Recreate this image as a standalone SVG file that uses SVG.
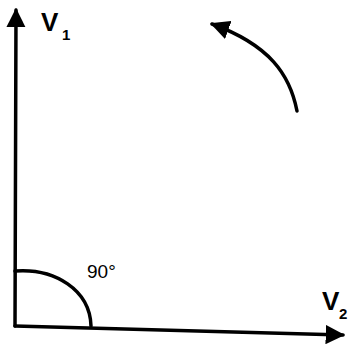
<svg xmlns="http://www.w3.org/2000/svg" width="348" height="351" viewBox="0 0 348 351">
<style>
.ax{stroke:#000;stroke-width:3.5;fill:none;stroke-linecap:round}
.lbl{font-family:"Liberation Sans",Arial,sans-serif;fill:#000}
.v{font-size:26px;font-weight:bold}
.sub{font-size:15px;font-weight:bold}
</style>
<defs>
<marker id="ah" viewBox="0 0 10 10" refX="9" refY="5" markerWidth="5.5" markerHeight="5.5" markerUnits="strokeWidth" orient="auto">
<path d="M0,0 L10,5 L0,10 z" fill="#000"/>
</marker>
</defs>
<rect width="348" height="351" fill="#fff"/>
<g id="connectors">
<line id="v1-axis" class="ax" x1="15" y1="326" x2="16" y2="10" marker-end="url(#ah)"/>
<line id="v2-axis" class="ax" x1="15" y1="326" x2="343" y2="335" marker-end="url(#ah)"/>
<path id="angle-arc" class="ax" stroke-width="3" d="M15,271 C55,268 90,290 91,326"/>
<path id="rotation" class="ax" d="M297,111 C290,75 270,45 212,24" marker-end="url(#ah)"/>
</g>
<g id="label-v1"><text class="lbl v" x="41" y="31">V</text><text class="lbl sub" x="62" y="40">1</text></g>
<g id="label-v2"><text class="lbl v" x="322" y="310">V</text><text class="lbl sub" x="339" y="319">2</text></g>
<g id="label-angle"><text class="lbl" x="87" y="278" font-size="19">90°</text></g>
</svg>
